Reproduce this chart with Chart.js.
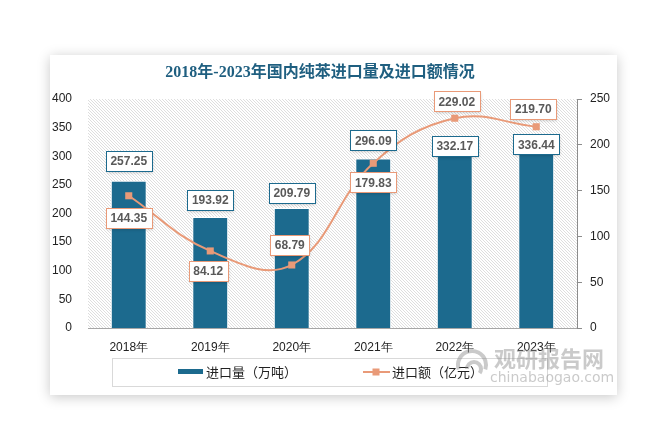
<!DOCTYPE html>
<html>
<head>
<meta charset="utf-8">
<script src="https://cdn.jsdelivr.net/npm/chart.js@4.4.1/dist/chart.umd.min.js"></script>
<style>
  html, body { margin: 0; padding: 0; background: #fff; }
  body { width: 671px; height: 448px; position: relative; overflow: hidden; }
  #card {
    position: absolute; left: 50px; top: 55px; width: 567px; height: 340px;
    background: #fff; box-shadow: 0 2px 12px rgba(0, 0, 0, 0.22);
  }
  #chart { display: block; }
</style>
</head>
<body>
<div id="card"><canvas id="chart" width="567" height="340"></canvas></div>
<script>
// 数据
const years = ['2018年', '2019年', '2020年', '2021年', '2022年', '2023年'];
const importVolume = [257.25, 193.92, 209.79, 296.09, 332.17, 336.44]; // 万吨
const importValue = [144.35, 84.12, 68.79, 179.83, 229.02, 219.70];   // 亿元
const titleText = '2018年-2023年国内纯苯进口量及进口额情况';
const volumeLabel = '进口量（万吨）';
const valueLabel = '进口额（亿元）';

// 颜色
const barColor = '#1c6a8e';
const lineColor = '#e99a78';
const labelTextColor = '#595959';

// 标签偏移（样式）
const volumeLabelDy = [-20, -17, -15, -18, 8, 9];
const valueLabelOffset = [[0, 22], [-2, 20], [-2, -20], [0, 19], [2, -17], [-3, -18]];

function drawLabel(ctx, text, cx, cy, border) {
    ctx.save();
    ctx.font = 'bold 12px "Liberation Sans", Arial, sans-serif';
    const w = Math.round(ctx.measureText(text).width + 9);
    const h = 20;
    const x = Math.round(cx - w / 2) + 0.5;
    const y = Math.round(cy - h / 2) + 0.5;
    ctx.shadowColor = 'rgba(0,0,0,0.22)';
    ctx.shadowBlur = 3;
    ctx.shadowOffsetY = 1;
    ctx.fillStyle = '#fff';
    ctx.fillRect(x, y, w, h);
    ctx.shadowColor = 'transparent';
    ctx.strokeStyle = border;
    ctx.lineWidth = 1;
    ctx.strokeRect(x, y, w, h);
    ctx.fillStyle = labelTextColor;
    ctx.textAlign = 'center';
    ctx.textBaseline = 'middle';
    ctx.fillText(text, cx, cy + 1);
    ctx.restore();
}

const decorPlugin = {
    id: 'decor',
    beforeDatasetsDraw(chart) {
        // 斜线背景
        const { ctx, chartArea: a } = chart;
        ctx.save();
        ctx.beginPath();
        ctx.rect(a.left, a.top, a.right - a.left, a.bottom - a.top);
        ctx.clip();
        ctx.fillStyle = '#fff';
        ctx.fillRect(a.left, a.top, a.right - a.left, a.bottom - a.top);
        ctx.strokeStyle = '#dedede';
        ctx.lineWidth = 1;
        const h = a.bottom - a.top;
        ctx.beginPath();
        for (let x = a.left - h; x < a.right; x += 3) {
            ctx.moveTo(x, a.top);
            ctx.lineTo(x + h, a.bottom);
        }
        ctx.stroke();
        ctx.restore();
    },
    afterDatasetsDraw(chart) {
        const ctx = chart.ctx;
        const barMeta = chart.getDatasetMeta(1);
        const lineMeta = chart.getDatasetMeta(0);
        barMeta.data.forEach((bar, i) => {
            drawLabel(ctx, importVolume[i].toFixed(2), bar.x, bar.y + volumeLabelDy[i], barColor);
        });
        lineMeta.data.forEach((pt, i) => {
            const off = valueLabelOffset[i];
            drawLabel(ctx, importValue[i].toFixed(2), pt.x + off[0], pt.y + off[1], lineColor);
        });
    },
    afterDraw(chart) {
        const ctx = chart.ctx;
        ctx.save();
        // 标题
        ctx.font = 'bold 16px "Liberation Serif", "Noto Sans CJK SC", serif';
        ctx.fillStyle = '#1f5f80';
        ctx.textAlign = 'center';
        ctx.textBaseline = 'middle';
        ctx.fillText(titleText, 270, 18);

        // 图例
        ctx.strokeStyle = '#d9d9d9';
        ctx.lineWidth = 1;
        ctx.strokeRect(62.5, 303.5, 435, 28);
        ctx.fillStyle = barColor;
        ctx.fillRect(128, 314, 25, 5);
        ctx.font = '13px "Noto Sans CJK SC", sans-serif';
        ctx.fillStyle = '#222';
        ctx.textAlign = 'left';
        ctx.fillText(volumeLabel, 156, 317);
        ctx.strokeStyle = lineColor;
        ctx.lineWidth = 2;
        ctx.beginPath();
        ctx.moveTo(313, 317);
        ctx.lineTo(340, 317);
        ctx.stroke();
        ctx.fillStyle = lineColor;
        ctx.fillRect(322.5, 313.5, 7, 7);
        ctx.fillStyle = '#222';
        ctx.fillText(valueLabel, 342, 317);

        // 水印
        ctx.globalAlpha = 0.45;
        ctx.fillStyle = '#8a8a8a';
        ctx.font = 'bold 22px "Noto Sans CJK SC", sans-serif';
        ctx.fillText('观研报告网', 444, 304);
        ctx.font = '14px "DejaVu Sans", sans-serif';
        ctx.fillText('chinabaogao.com', 440, 323);
        ctx.lineWidth = 4;
        ctx.strokeStyle = '#8a8a8a';
        ctx.beginPath();
        ctx.arc(422, 310, 14, Math.PI * 0.9, Math.PI * 2.1);
        ctx.stroke();
        ctx.beginPath();
        ctx.arc(424, 314, 7, Math.PI * 1.0, Math.PI * 2.2);
        ctx.stroke();
        ctx.restore();
    }
};

const tickFont = { family: '"Liberation Sans", Arial, sans-serif', size: 12 };

new Chart(document.getElementById('chart'), {
    data: {
        labels: years,
        datasets: [
            {
                type: 'line',
                label: valueLabel,
                data: importValue,
                yAxisID: 'y1',
                borderColor: lineColor,
                backgroundColor: lineColor,
                borderWidth: 2,
                tension: 0.4,
                pointStyle: 'rect',
                pointRadius: 5,
                pointHoverRadius: 5,
                pointBorderWidth: 0,
                order: 0
            },
            {
                type: 'bar',
                label: volumeLabel,
                data: importVolume,
                yAxisID: 'y',
                backgroundColor: barColor,
                borderColor: '#fff',
                borderWidth: 1,
                borderSkipped: 'bottom',
                categoryPercentage: 1,
                barPercentage: 0.44,
                order: 1
            }
        ]
    },
    options: {
        responsive: false,
        animation: false,
        events: [],
        layout: { padding: { top: 44, left: 0, right: 0, bottom: 0 } },
        plugins: {
            legend: { display: false },
            title: { display: false },
            tooltip: { enabled: false }
        },
        scales: {
            x: {
                grid: { display: false, drawTicks: false },
                border: { display: true, color: '#a6a6a6', width: 1 },
                ticks: { color: '#222', font: tickFont, padding: 12, maxRotation: 0 },
                afterFit(scale) { scale.height = 67; }
            },
            y: {
                position: 'left',
                min: 0,
                max: 400,
                grid: { display: false, drawTicks: false },
                border: { display: false },
                ticks: { stepSize: 50, color: '#222', font: tickFont, padding: 16 },
                afterFit(scale) { scale.width = 38; }
            },
            y1: {
                position: 'right',
                min: 0,
                max: 250,
                grid: { display: true, drawOnChartArea: false, drawTicks: true, tickLength: 5, color: '#8c8c8c' },
                border: { display: true, color: '#8c8c8c', width: 1 },
                ticks: { stepSize: 50, color: '#222', font: tickFont, padding: 8 },
                afterFit(scale) { scale.width = 40; }
            }
        }
    },
    plugins: [decorPlugin]
});
</script>
</body>
</html>
